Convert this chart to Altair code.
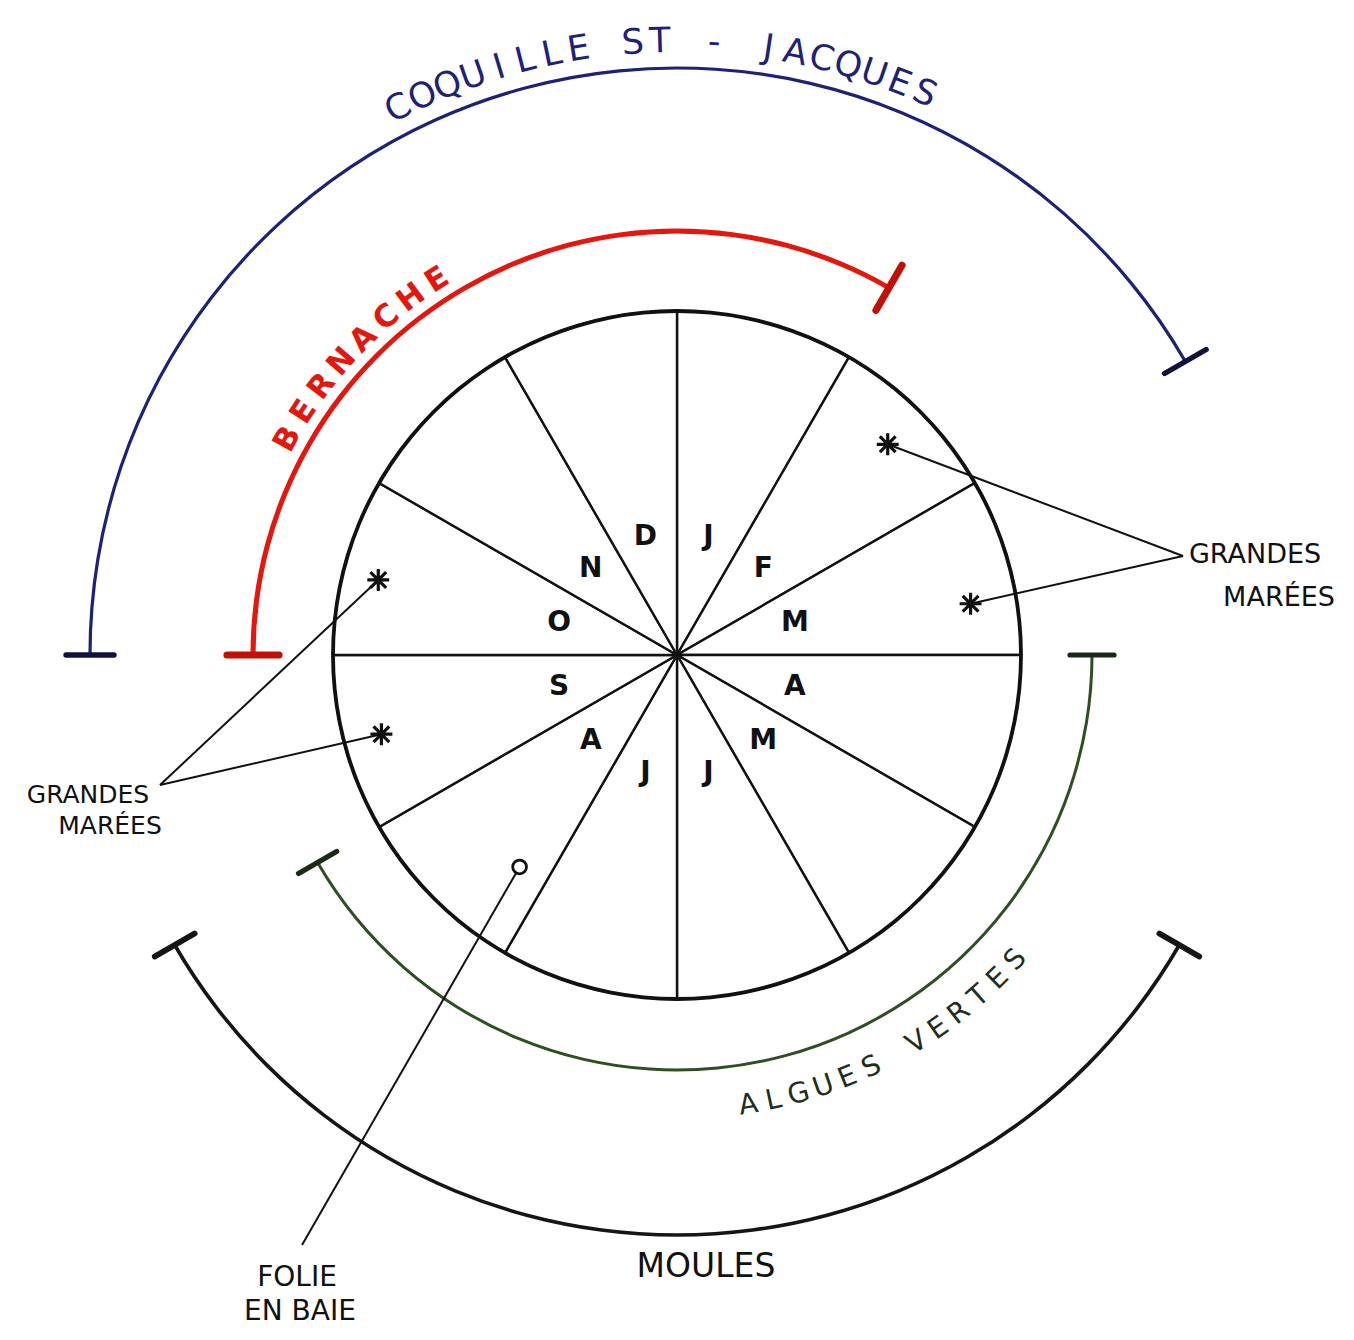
import math
import altair as alt
import pandas as pd

# ---------------- data ----------------
MONTH_KEYS = ["Jan", "Feb", "Mar", "Apr", "May", "Jun", "Jul", "Aug", "Sep", "Oct", "Nov", "Dec"]
MONTH_LETTERS = ["J", "F", "M", "A", "M", "J", "J", "A", "S", "O", "N", "D"]

SEASON_NAMES = ["COQUILLE ST - JACQUES", "BERNACHE", "ALGUES VERTES", "MOULES"]
SEASON_FIRST = ["Oct", "Oct", "Apr", "May"]
SEASON_LAST = ["Feb", "Jan", "Aug", "Aug"]

TIDE_MONTHS = ["Feb", "Mar", "Sep", "Oct"]          # "Grandes marées"
TIDE_FRACTION = [0.5, 0.67, 0.5, 0.47]              # position inside the month
TIDE_SIDE = ["right", "right", "left", "left"]

FOLIE_MONTH = "Aug"                                  # "Folie en baie"
FOLIE_FRACTION = 0.22

# ---------------- layout ----------------
W, H = 1338, 1294
R_WHEEL = 344
R_MONTH = 122
SEASON_RADIUS = [587, 424, 415, 580]
SEASON_WIDTH = [3.2, 5.0, 3.0, 3.6]
SEASON_COLOR = ["#1d2275", "#e3170e", "#2d4f22", "#151515"]
CAP_HALF = [24, 26, 22, 23]
CAP_COLOR = ["#10123a", "#c01008", "#1a2a16", "#151515"]

# curved labels of the first three seasons (angles in degrees, clockwise from top)
CURVED_FROM = [-27, -61, 171]
CURVED_TO = [23.8, -32.6, 132]
CURVED_R = [614, 445, 456]
CURVED_SIZE = [35, 31, 28]
CURVED_WEIGHT = ["normal", "bold", "normal"]
CURVED_COLOR = ["#1d2275", "#e3170e", "#1f2e1c"]
CURVED_FLIP = [False, False, True]

R_TIDE = [298, 298, 306, 308]
R_FOLIE = 264
ANCHOR = {"right": (506, 99), "left": (-517, -130), "folie": (-375, -590)}

NOTE_TEXT = ["GRANDES", "MARÉES", "GRANDES", "MARÉES", "FOLIE", "EN BAIE", "MOULES"]
NOTE_X = [578, 602, -589, -567, -380, -377, 29]
NOTE_Y = [100, 57, -140, -171, -623, -657, -612]
NOTE_SIZE = [27, 27, 25, 25, 28, 28, 33]

FONT = "DejaVu Sans"


def polar(deg, r):
    a = math.radians(deg)
    return r * math.sin(a), r * math.cos(a)


def month_angle(key, frac=0.0):
    return (MONTH_KEYS.index(key) + frac) * 30.0


xs = alt.Scale(domain=[-W / 2, W / 2], nice=False, zero=False)
ys = alt.Scale(domain=[-H / 2, H / 2], nice=False, zero=False)
X = lambda f: alt.X(f, type="quantitative", scale=xs, axis=None)
Y = lambda f: alt.Y(f, type="quantitative", scale=ys, axis=None)

# wheel sectors
wheel = pd.DataFrame({
    "m": MONTH_LETTERS,
    "t1": [math.radians(i * 30) for i in range(12)],
    "t2": [math.radians((i + 1) * 30) for i in range(12)],
    "ro": [R_WHEEL] * 12,
    "ri": [0] * 12,
})
sectors = alt.Chart(wheel).mark_arc(fill="white", stroke="#111", strokeWidth=2.4).encode(
    theta=alt.Theta("t1:Q", scale=None, stack=None),
    theta2="t2:Q",
    radius=alt.Radius("ro:Q", scale=None),
    radius2="ri:Q",
)
ring_df = pd.DataFrame({"t1": [0.0], "t2": [2 * math.pi], "ro": [R_WHEEL + 1.9], "ri": [R_WHEEL - 1.9]})
ring = alt.Chart(ring_df).mark_arc(fill="#111").encode(
    theta=alt.Theta("t1:Q", scale=None, stack=None),
    theta2="t2:Q",
    radius=alt.Radius("ro:Q", scale=None),
    radius2="ri:Q",
)

# month letters
mrows = []
for i, m in enumerate(MONTH_LETTERS):
    x, y = polar(i * 30 + 15, R_MONTH)
    mrows.append({"x": x, "y": y, "m": m})
months = alt.Chart(pd.DataFrame(mrows)).mark_text(
    font=FONT, fontSize=28, fontWeight="bold", color="#111", baseline="middle", align="center"
).encode(x=X("x"), y=Y("y"), text="m:N")

center = alt.Chart(pd.DataFrame({"x": [0], "y": [0]})).mark_point(
    filled=True, size=70, color="#111", opacity=1
).encode(x=X("x"), y=Y("y"))

# season arcs
srows, crow = [], []
for i, name in enumerate(SEASON_NAMES):
    a1 = month_angle(SEASON_FIRST[i])
    a2 = month_angle(SEASON_LAST[i], 1.0)
    if a2 <= a1:
        a2 += 360
    if a1 >= 180 and a2 > 360:
        a1 -= 360
        a2 -= 360
    r, w = SEASON_RADIUS[i], SEASON_WIDTH[i]
    srows.append({"name": name, "t1": math.radians(a1), "t2": math.radians(a2),
                  "ro": r + w / 2, "ri": r - w / 2, "c": SEASON_COLOR[i]})
    for a in (a1, a2):
        x1, y1 = polar(a, r - CAP_HALF[i])
        x2, y2 = polar(a, r + CAP_HALF[i])
        crow.append({"x": x1, "y": y1, "x2": x2, "y2": y2, "c": CAP_COLOR[i], "w": w + 2.2})
season_arcs = alt.Chart(pd.DataFrame(srows)).mark_arc().encode(
    theta=alt.Theta("t1:Q", scale=None, stack=None),
    theta2="t2:Q",
    radius=alt.Radius("ro:Q", scale=None),
    radius2="ri:Q",
    fill=alt.Fill("c:N", scale=None),
)
caps = alt.Chart(pd.DataFrame(crow)).mark_rule(strokeCap="round").encode(
    x=X("x"), y=Y("y"), x2="x2:Q", y2="y2:Q",
    color=alt.Color("c:N", scale=None),
    strokeWidth=alt.StrokeWidth("w:Q", scale=None),
)

# curved labels
curved_layers = []
for i in range(3):
    txt = SEASON_NAMES[i]
    n = len(txt)
    rows = []
    for k, ch in enumerate(txt):
        a = CURVED_FROM[i] + (CURVED_TO[i] - CURVED_FROM[i]) * k / (n - 1)
        x, y = polar(a, CURVED_R[i])
        rot = (a + 180) if CURVED_FLIP[i] else a
        rows.append({"x": x, "y": y, "ch": ch, "rot": rot % 360})
    curved_layers.append(
        alt.Chart(pd.DataFrame(rows)).mark_text(
            font=FONT, fontSize=CURVED_SIZE[i], fontWeight=CURVED_WEIGHT[i],
            color=CURVED_COLOR[i], baseline="middle", align="center"
        ).encode(x=X("x"), y=Y("y"), text="ch:N", angle=alt.Angle("rot:Q", scale=None))
    )

# grandes marées stars and leader lines
trows, lrows = [], []
for i, m in enumerate(TIDE_MONTHS):
    x, y = polar(month_angle(m, TIDE_FRACTION[i]), R_TIDE[i])
    trows.append({"x": x, "y": y})
    ax, ay = ANCHOR[TIDE_SIDE[i]]
    lrows.append({"x": x, "y": y, "x2": ax, "y2": ay})
fx, fy = polar(month_angle(FOLIE_MONTH, FOLIE_FRACTION), R_FOLIE)
ax, ay = ANCHOR["folie"]
lrows.append({"x": fx, "y": fy, "x2": ax, "y2": ay})

leaders = alt.Chart(pd.DataFrame(lrows)).mark_rule(color="#111", strokeWidth=2.0).encode(
    x=X("x"), y=Y("y"), x2="x2:Q", y2="y2:Q"
)
STAR = "M-1,0L1,0M0,-1L0,1M-0.72,-0.72L0.72,0.72M-0.72,0.72L0.72,-0.72"
stars = alt.Chart(pd.DataFrame(trows)).mark_point(
    shape=STAR, filled=False, size=480, strokeWidth=3.2, color="#111", opacity=1
).encode(x=X("x"), y=Y("y"))
folie = alt.Chart(pd.DataFrame({"x": [fx], "y": [fy]})).mark_point(
    shape="circle", filled=True, fill="white", stroke="#111", size=190, strokeWidth=2.8, opacity=1
).encode(x=X("x"), y=Y("y"))

notes = alt.Chart(pd.DataFrame({"t": NOTE_TEXT, "x": NOTE_X, "y": NOTE_Y, "s": NOTE_SIZE})).mark_text(
    font=FONT, color="#111", baseline="middle", align="center"
).encode(x=X("x"), y=Y("y"), text="t:N", size=alt.Size("s:Q", scale=None))

chart = alt.layer(
    season_arcs, caps, sectors, ring, months, center, leaders, stars, folie, notes, *curved_layers
).properties(width=W, height=H, padding=0, background="white").configure_view(stroke=None)

chart.save("out.html", embed_options={"renderer": "svg", "actions": False})
